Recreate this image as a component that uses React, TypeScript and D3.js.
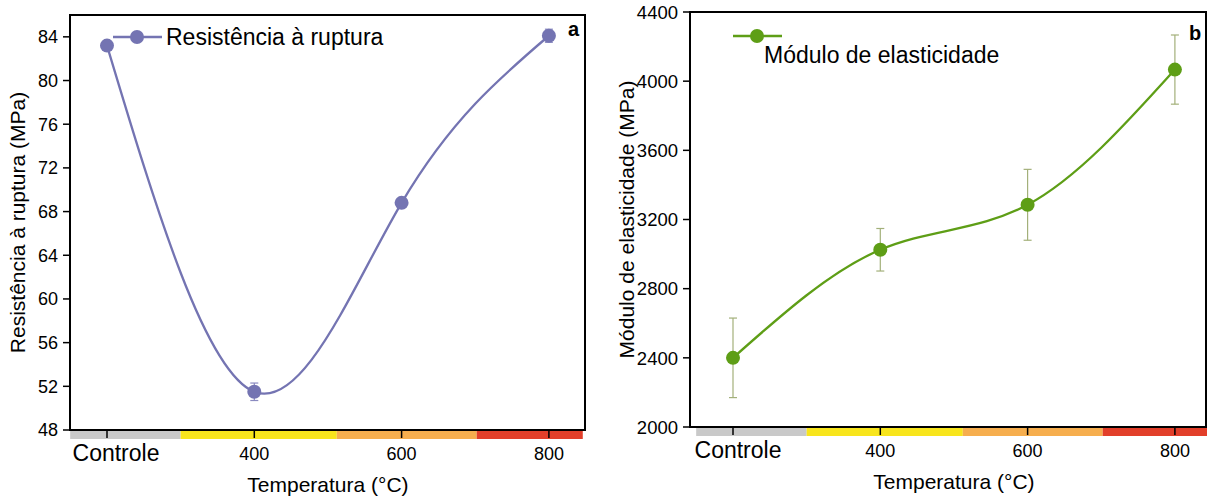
import { curveNatural, line, scaleLinear } from "d3";

const categories = ["Controle", "400", "600", "800"];
const resistencia = [83.2, 51.5, 68.8, 84.1];
const resistenciaErr = [0.3, 0.8, 0.3, 0.6];
const modulo = [2400, 3025, 3285, 4067];
const moduloErr = [230, 123, 205, 200];
const resistenciaTicks = [48, 52, 56, 60, 64, 68, 72, 76, 80, 84];
const moduloTicks = [2000, 2400, 2800, 3200, 3600, 4000, 4400];
// colour strip under the x axis, edges in category-index units
const stripColors = ["#c9c9c9", "#f8e51c", "#f6ae4e", "#e23f2a"];
const stripEdges = [-0.25, 0.5, 1.56, 2.51, 3.23];

const font = "'Liberation Sans', Arial, sans-serif";

const Panel = ({
  left,
  right,
  top,
  bottom,
  x0,
  values,
  errors,
  domain,
  ticks,
  tickSize,
  ctrlShift,
  color,
  errColor,
  yTitle,
  yTitleX,
  legend,
  legendY,
  legendTextX,
  legendTextY,
  tag,
  tagY,
}: any) => {
  const x = scaleLinear().domain([0, 3]).range([x0, x0 + 3 * 147.3]);
  const y = scaleLinear().domain(domain).range([bottom, top]);
  const pts: [number, number][] = values.map((v: number, i: number) => [x(i), y(v)]);
  const path = line().curve(curveNatural)(pts);
  const stripTop = bottom + 1;

  return (
    <g fontFamily={font}>
      {/* colour strip */}
      {stripColors.map((c, i) => (
        <rect
          key={c}
          x={x(stripEdges[i])}
          y={stripTop}
          width={Math.min(x(stripEdges[i + 1]), 1207) - x(stripEdges[i])}
          height={8}
          fill={c}
        />
      ))}
      {/* frame */}
      <rect x={left} y={top} width={right - left} height={bottom - top} fill="none" stroke="#000" strokeWidth={2} />
      {/* y axis */}
      {ticks.map((t: number) => (
        <g key={t} transform={`translate(${left},${y(t)})`}>
          <line x1={-7} x2={0} stroke="#000" strokeWidth={1.5} />
          <text x={-12} dy="0.36em" textAnchor="end" fontSize={tickSize}>
            {t}
          </text>
        </g>
      ))}
      {/* x axis */}
      {categories.map((c, i) => (
        <g key={c} transform={`translate(${x(i)},${bottom})`}>
          <line y1={0} y2={8} stroke="#000" strokeWidth={1.5} />
          <text
            x={i === 0 ? ctrlShift : 0}
            y={i === 0 ? 31 : 30}
            textAnchor="middle"
            fontSize={i === 0 ? 23 : 18}
          >
            {c}
          </text>
        </g>
      ))}
      <text x={(x(0) + x(3)) / 2} y={bottom + 62} textAnchor="middle" fontSize={21}>
        Temperatura (°C)
      </text>
      <text
        transform={`translate(${yTitleX},${(top + bottom) / 2}) rotate(-90)`}
        textAnchor="middle"
        fontSize={21}
      >
        {yTitle}
      </text>
      {/* error bars */}
      {values.map((v: number, i: number) => (
        <g key={i} stroke={errColor} strokeWidth={1.2}>
          <line x1={x(i)} x2={x(i)} y1={y(v - errors[i])} y2={y(v + errors[i])} />
          <line x1={x(i) - 4} x2={x(i) + 4} y1={y(v - errors[i])} y2={y(v - errors[i])} />
          <line x1={x(i) - 4} x2={x(i) + 4} y1={y(v + errors[i])} y2={y(v + errors[i])} />
        </g>
      ))}
      <path d={path ?? ""} fill="none" stroke={color} strokeWidth={2.3} />
      {pts.map(([px, py], i) => (
        <circle key={i} cx={px} cy={py} r={7} fill={color} />
      ))}
      {/* legend */}
      <line x1={left + 43} x2={left + 92} y1={legendY} y2={legendY} stroke={color} strokeWidth={2.3} />
      <circle cx={left + 67} cy={legendY} r={7} fill={color} />
      <text x={legendTextX} y={legendTextY} fontSize={23}>
        {legend}
      </text>
      <text x={right - 17} y={tagY} fontSize={20} fontWeight="bold">
        {tag}
      </text>
    </g>
  );
};

export default function App() {
  return (
    <svg width={1207} height={500} style={{ position: "absolute", left: 0, top: 0, background: "#fff" }}>
      <Panel
        left={70}
        right={585}
        top={15}
        bottom={430}
        x0={107}
        values={resistencia}
        errors={resistenciaErr}
        domain={[48, 86]}
        ticks={resistenciaTicks}
        tickSize={18}
        ctrlShift={9}
        color="#7474b2"
        errColor="#8a8ac0"
        yTitle="Resistência à ruptura (MPa)"
        yTitleX={25}
        legend="Resistência à ruptura"
        legendY={37}
        legendTextX={166}
        legendTextY={45}
        tag="a"
        tagY={36}
      />
      <Panel
        left={690}
        right={1206}
        top={12}
        bottom={427}
        x0={733}
        values={modulo}
        errors={moduloErr}
        domain={[2000, 4400]}
        ticks={moduloTicks}
        tickSize={18.5}
        ctrlShift={5}
        color="#5e9e16"
        errColor="#a3b07a"
        yTitle="Módulo de elasticidade (MPa)"
        yTitleX={634}
        legend="Módulo de elasticidade"
        legendY={36}
        legendTextX={764}
        legendTextY={63}
        tag="b"
        tagY={40}
      />
    </svg>
  );
}
